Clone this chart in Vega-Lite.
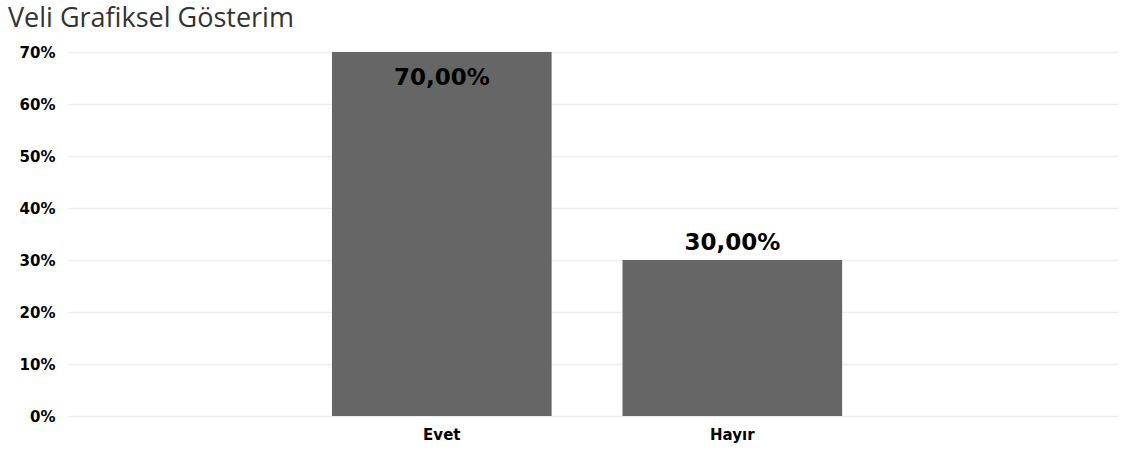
{
  "$schema": "https://vega.github.io/schema/vega-lite/v6.json",
  "autosize": "none",
  "width": 1050,
  "height": 364,
  "padding": {"left": 68, "top": 52, "right": 10, "bottom": 35},
  "background": "white",
  "title": {
    "text": "Veli Grafiksel Gösterim",
    "anchor": "start",
    "frame": "group",
    "font": "Open Sans",
    "fontSize": 27,
    "fontWeight": "normal",
    "color": "#333333",
    "dx": -60,
    "offset": 12
  },
  "data": {"values": [
    {"cevap": "Evet", "oran": 0.7},
    {"cevap": "Hayır", "oran": 0.3}
  ]},
  "encoding": {
    "x": {
      "field": "cevap", "type": "nominal", "sort": null,
      "scale": {"paddingInner": 0.244, "paddingOuter": 0.929, "align": 0.489},
      "axis": {"title": null, "labelAngle": 0, "domain": false, "ticks": false, "labelPadding": 11,
        "labelFont": "DejaVu Sans", "labelFontWeight": "bold", "labelFontSize": 15, "labelColor": "#000000"}
    },
    "y": {
      "field": "oran", "type": "quantitative",
      "scale": {"domain": [0, 0.7], "nice": false},
      "axis": {"title": null, "format": ".0%", "values": [0, 0.1, 0.2, 0.3, 0.4, 0.5, 0.6, 0.7],
        "domain": false, "ticks": false, "labelPadding": 13, "gridColor": "#eeeeee", "gridWidth": 1.5,
        "labelFont": "DejaVu Sans", "labelFontWeight": "bold", "labelFontSize": 15, "labelColor": "#000000"}
    }
  },
  "layer": [
    {"mark": {"type": "bar", "color": "#666666"}},
    {
      "transform": [{"filter": "datum.oran >= 0.5"}],
      "mark": {"type": "text", "baseline": "alphabetic", "dy": 33, "font": "DejaVu Sans", "fontWeight": "bold", "fontSize": 23, "color": "#000000"},
      "encoding": {"text": {"field": "oran", "type": "quantitative", "format": ".2%"}}
    },
    {
      "transform": [{"filter": "datum.oran < 0.5"}],
      "mark": {"type": "text", "baseline": "alphabetic", "dy": -10, "font": "DejaVu Sans", "fontWeight": "bold", "fontSize": 23, "color": "#000000"},
      "encoding": {"text": {"field": "oran", "type": "quantitative", "format": ".2%"}}
    }
  ],
  "config": {
    "view": {"stroke": null},
    "locale": {"number": {"decimal": ",", "thousands": ".", "grouping": [3], "currency": ["", " ₺"]}}
  }
}
